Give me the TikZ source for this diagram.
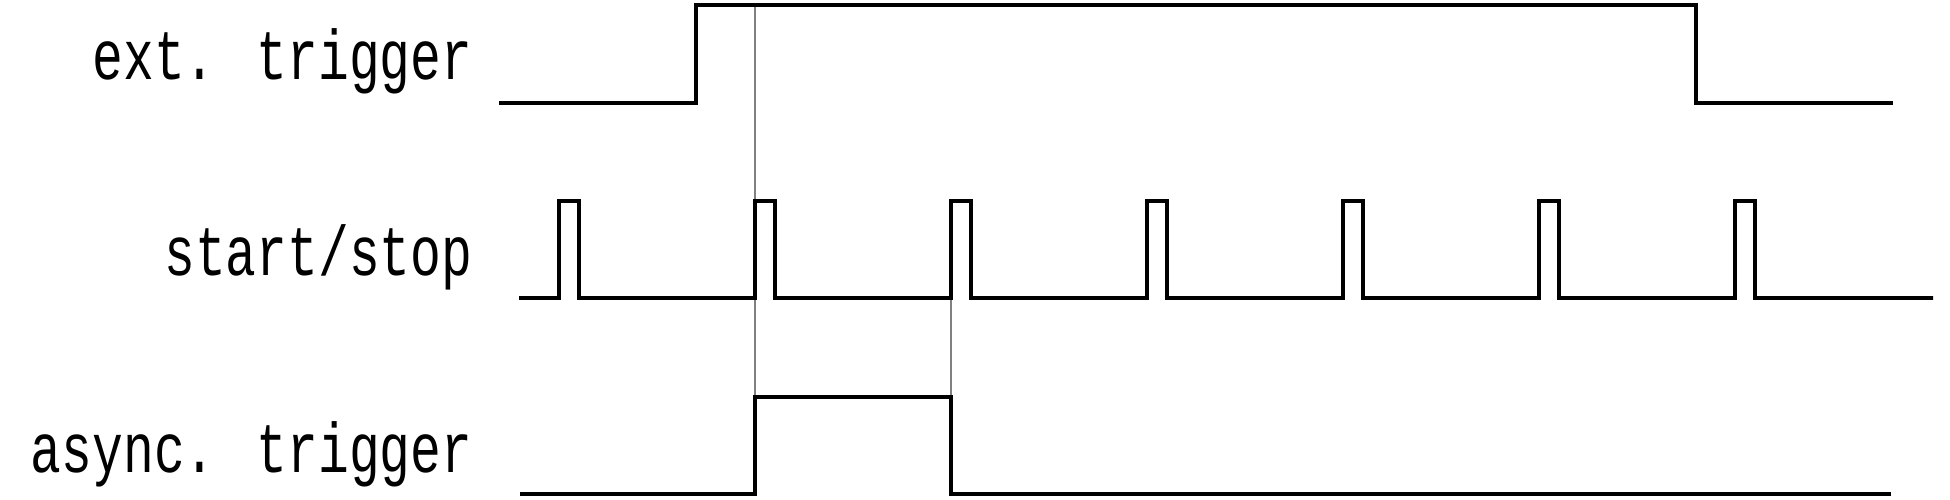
\documentclass[tikz,border=0pt]{standalone}
\usepackage{fontspec}
\newfontfamily\labelfont{Liberation Mono}[FakeStretch=0.73]
\usepackage{tikz}

\begin{document}
\begin{tikzpicture}[
    signal/.style={draw, line width=1.1pt},
    guide/.style={draw, gray, line width=0.35pt},
    label/.style={anchor=base east, inner sep=0pt, font=\labelfont\fontsize{20}{24}\selectfont}
]
\useasboundingbox (0,0) rectangle (19.5,5);
% signal names
\node[label] (ext) at (4.73,4.20) {ext. trigger};
\node[label] (ss) at (4.73,2.24) {start/stop};
\node[label] (async) at (4.73,0.27) {async. trigger};
% edges used by the guide lines
\coordinate (exttop) at (7.55,4.95);
\coordinate (sslow) at (9.51,2.02);
\coordinate (asyncrise) at (7.55,1.03);
\coordinate (asyncfall) at (9.51,1.03);
\draw[guide] (exttop) -- (asyncrise);
\draw[guide] (sslow) -- (asyncfall);
% waveforms
\draw[signal] (4.99,3.97) -- (6.96,3.97) -- (6.96,4.95) -- (16.96,4.95) -- (16.96,3.97) -- (18.93,3.97);
\draw[signal] (5.19,2.02) \foreach \x in {5.59,7.55,9.51,11.47,13.43,15.39,17.35} {
    -- (\x,2.02) -- (\x,2.99) -- ++(0.20,0) -- ++(0,-0.97)} -- (19.33,2.02);
\draw[signal] (5.20,0.06) -- (asyncrise |- 0,0.06) -- (asyncrise) -- (asyncfall) -- (asyncfall |- 0,0.06) -- (18.91,0.06);
\end{tikzpicture}
\end{document}
